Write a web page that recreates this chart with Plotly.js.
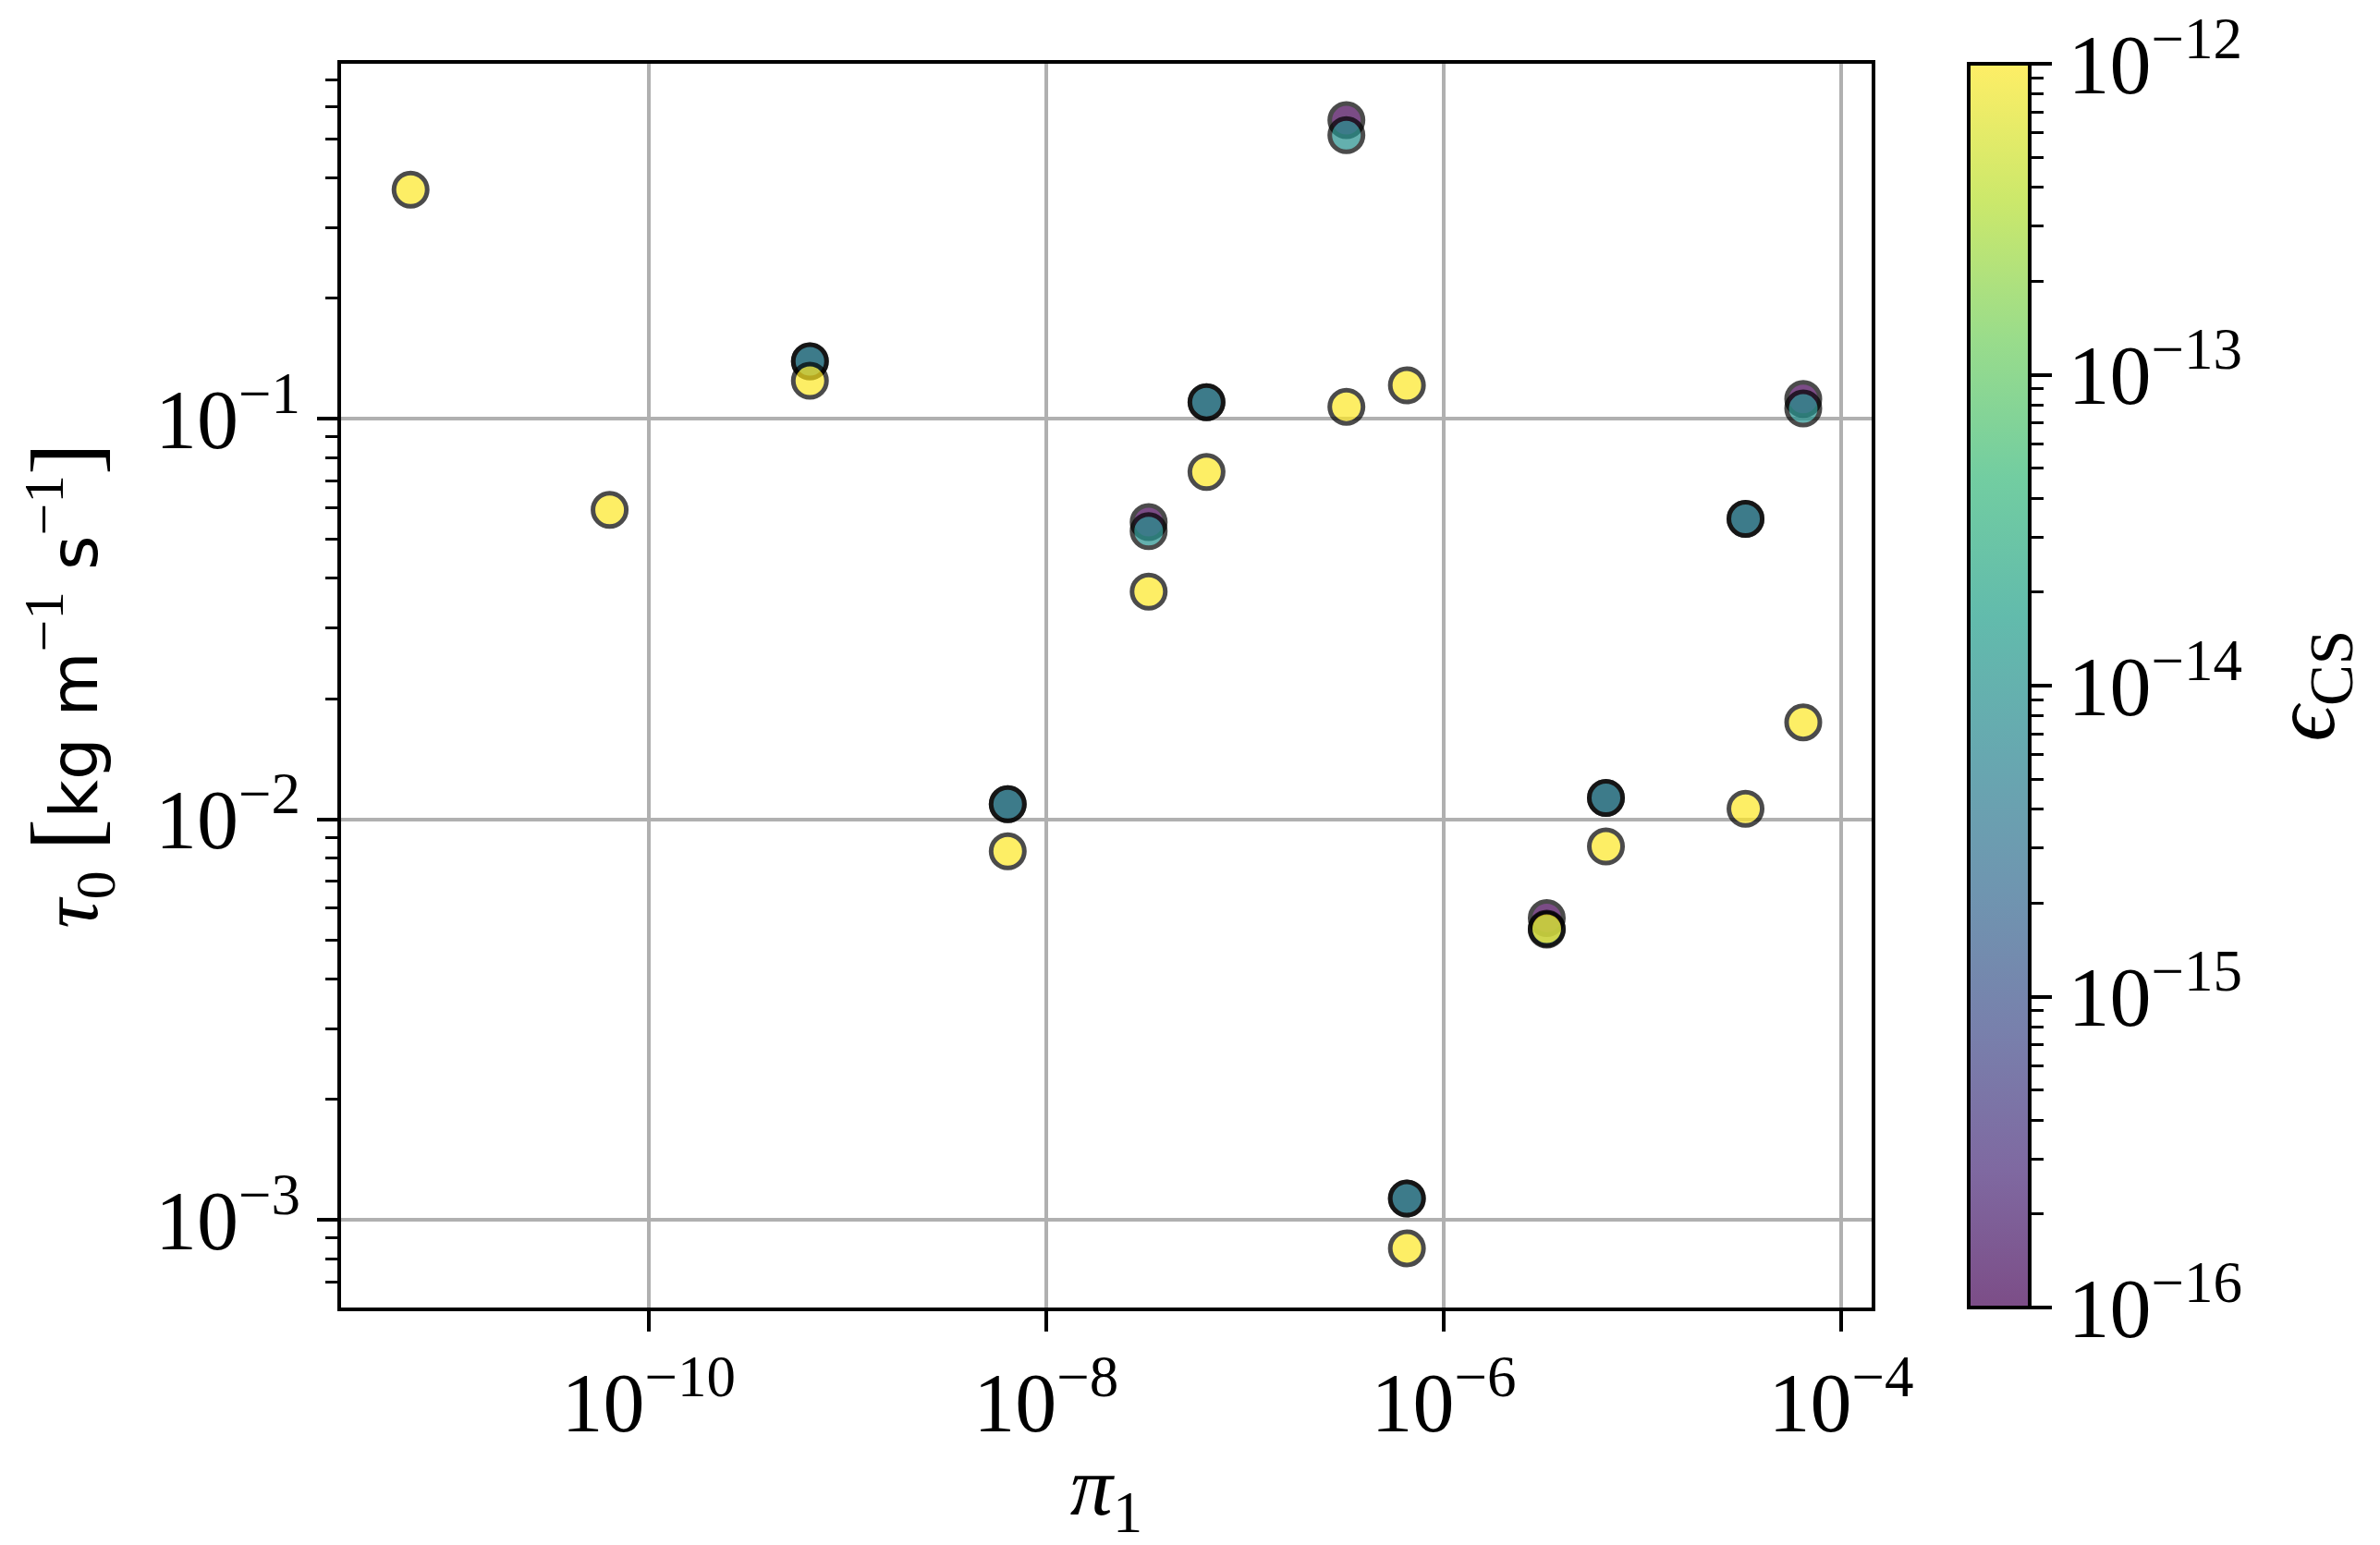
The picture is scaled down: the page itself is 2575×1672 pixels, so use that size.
<!DOCTYPE html>
<html>
<head>
<meta charset="utf-8">
<script src="https://cdn.plot.ly/plotly-3.0.1.min.js"></script>
<style>
  body { margin: 0; background: white; }
  #scatterPlot { width: 2575px; height: 1672px; }
</style>
</head>
<body>
<div id="scatterPlot"></div>
<script>
// pi_1 and tau_0 values for each eps_CS level
let pi1Eps16 = [6.48e-10, 6.41e-9, 3.28e-8, 6.41e-8, 3.24e-7, 6.53e-7, 3.30e-6, 6.55e-6, 3.30e-5, 6.44e-5];
let tauEps16 = [0.139, 0.0109, 0.0552, 0.110, 0.556, 0.00113, 0.00567, 0.0113, 0.0562, 0.112];

let pi1Eps14 = [6.48e-10, 6.41e-9, 3.28e-8, 6.41e-8, 3.24e-7, 6.53e-7, 3.30e-6, 6.55e-6, 3.30e-5, 6.44e-5];
let tauEps14 = [0.139, 0.0109, 0.0524, 0.110, 0.510, 0.00113, 0.00530, 0.0113, 0.0562, 0.106];

let pi1Eps12 = [6.35e-12, 6.37e-11, 6.48e-10, 6.41e-9, 3.28e-8, 6.41e-8, 3.24e-7, 6.53e-7, 6.53e-7, 3.30e-6, 6.55e-6, 3.30e-5, 6.44e-5];
let tauEps12 = [0.373, 0.0592, 0.1243, 0.00832, 0.0370, 0.0736, 0.1071, 0.1211, 0.000849, 0.00533, 0.00855, 0.01062, 0.01746];

let epsLevels = [1e-16, 1e-14, 1e-12];

// tick labels
let xTickVals = [1e-10, 1e-8, 1e-6, 1e-4];
let xTickText = ['10<sup>\u221210</sup>', '10<sup>\u22128</sup>', '10<sup>\u22126</sup>', '10<sup>\u22124</sup>'];
let yTickVals = [1e-3, 1e-2, 1e-1];
let yTickText = ['10<sup>\u22123</sup>', '10<sup>\u22122</sup>', '10<sup>\u22121</sup>'];
let cbTickVals = [-16, -15, -14, -13, -12];
let cbTickText = ['10<sup>\u221216</sup>', '10<sup>\u221215</sup>', '10<sup>\u221214</sup>', '10<sup>\u221213</sup>', '10<sup>\u221212</sup>'];

// put all groups into one trace, low eps first so yellow ends up on top
let groups = [[pi1Eps16, tauEps16], [pi1Eps14, tauEps14], [pi1Eps12, tauEps12]];
let allX = [];
let allY = [];
let allC = [];
for (let g = 0; g < groups.length; g++) {
    for (let i = 0; i < groups[g][0].length; i++) {
        allX.push(groups[g][0][i]);
        allY.push(groups[g][1][i]);
        allC.push(Math.log10(epsLevels[g]));
    }
}

// viridis, plain for the markers and pre-mixed with white (alpha 0.7) for the colorbar
let viridisHex = ['#440154', '#482878', '#3e4a89', '#31688e', '#26828e', '#1f9e89', '#35b779', '#6dcd59', '#b4de2c', '#fde725'];
let viridis = viridisHex.map((h, i) => [i / (viridisHex.length - 1), h]);
let viridisFaded = viridisHex.map(function (h, i) {
    let rgb = [1, 3, 5].map(k => Math.round(0.7 * parseInt(h.slice(k, k + 2), 16) + 0.3 * 255));
    return [i / (viridisHex.length - 1), 'rgb(' + rgb.join(',') + ')'];
});

// minor ticks for the colorbar and the y axis
let cbMinor = [];
for (let d = -16; d < -12; d++) {
    for (let k = 2; k <= 9; k++) {
        cbMinor.push(d + Math.log10(k));
    }
}
let yMinor = [];
for (let d = -4; d < 0; d++) {
    for (let k = 2; k <= 9; k++) {
        yMinor.push(k * Math.pow(10, d));
    }
}

let serif = 'Liberation Serif, DejaVu Serif, serif';
let sans = 'DejaVu Sans';
let fs = 90;

let cbBase = {
    x: 1.0634, xanchor: 'left', xpad: 0,
    y: 0, yanchor: 'bottom', ypad: 0,
    len: 1, lenmode: 'fraction',
    thickness: 66, thicknessmode: 'pixels',
    outlinewidth: 4, outlinecolor: 'black'
};

// a hidden point (outside the axes) that only carries a colorbar
function colorbarTrace(cb) {
    return {
        x: [1], y: [10],
        type: 'scatter',
        mode: 'markers',
        hoverinfo: 'skip',
        marker: {
            size: 1,
            color: [-14],
            colorscale: viridisFaded,
            cmin: -16,
            cmax: -12,
            showscale: true,
            colorbar: Object.assign({}, cbBase, cb)
        }
    };
}

let data = [{
    x: allX,
    y: allY,
    type: 'scatter',
    mode: 'markers',
    hoverinfo: 'x+y',
    marker: {
        size: 36,
        color: allC,
        colorscale: viridis,
        cmin: -16,
        cmax: -12,
        opacity: 0.7,
        line: { color: 'black', width: 5 },
        showscale: false
    }
},
colorbarTrace({
    tickmode: 'array',
    tickvals: cbTickVals,
    ticktext: cbTickText,
    ticks: 'outside',
    ticklen: 22,
    tickwidth: 4,
    tickcolor: 'black',
    tickfont: { family: serif, size: fs, color: 'black' }
}),
colorbarTrace({
    tickmode: 'array',
    tickvals: cbMinor,
    ticks: 'outside',
    ticklen: 13,
    tickwidth: 3,
    tickcolor: 'black',
    showticklabels: false
})];

let layout = {
    width: 2575,
    height: 1672,
    margin: { l: 369, r: 550, t: 69, b: 257 },
    paper_bgcolor: 'white',
    plot_bgcolor: 'white',
    showlegend: false,
    font: { family: serif, size: fs, color: 'black' },
    xaxis: {
        type: 'log',
        range: [-11.547, -3.847],
        tickmode: 'array',
        tickvals: xTickVals,
        ticktext: xTickText,
        ticks: 'outside',
        ticklen: 22,
        tickwidth: 4,
        tickcolor: 'black',
        showline: true,
        mirror: true,
        linewidth: 4,
        linecolor: 'black',
        showgrid: true,
        gridcolor: '#b0b0b0',
        gridwidth: 4,
        zeroline: false,
        tickfont: { family: serif, size: fs },
        title: { text: '<i>\u03c0</i><sub>1</sub>', standoff: 8, font: { family: serif, size: 92 } }
    },
    yaxis: {
        type: 'log',
        range: [-3.219, -0.114],
        tickmode: 'array',
        tickvals: yTickVals,
        ticktext: yTickText,
        ticks: 'outside',
        ticklen: 22,
        tickwidth: 4,
        tickcolor: 'black',
        minor: {
            tickmode: 'array',
            tickvals: yMinor,
            ticks: 'outside',
            ticklen: 13,
            tickwidth: 3,
            tickcolor: 'black',
            showgrid: false
        },
        showline: true,
        mirror: true,
        linewidth: 4,
        linecolor: 'black',
        showgrid: true,
        gridcolor: '#b0b0b0',
        gridwidth: 4,
        zeroline: false,
        tickfont: { family: serif, size: fs },
        title: {
            text: '<i>\u03c4</i><sub>0</sub> <span style="font-size:104px">[</span><span style="font-family:' + sans + ';font-size:72px">kg m</span><sup>\u22121</sup><span style="font-family:' + sans + ';font-size:72px"> s</span><sup>\u22121</sup><span style="font-size:104px">]</span>',
            standoff: 34,
            font: { family: serif, size: 88 }
        }
    },
    annotations: [{
        // colorbar label
        text: '<i>\u03f5</i><sub>CS</sub>',
        xref: 'paper', yref: 'paper',
        x: 1.286, y: 0.5,
        xanchor: 'center', yanchor: 'middle',
        textangle: -90,
        showarrow: false,
        font: { family: serif, size: 96, color: 'black' }
    }]
};

Plotly.newPlot('scatterPlot', data, layout, { staticPlot: true });
</script>
</body>
</html>
